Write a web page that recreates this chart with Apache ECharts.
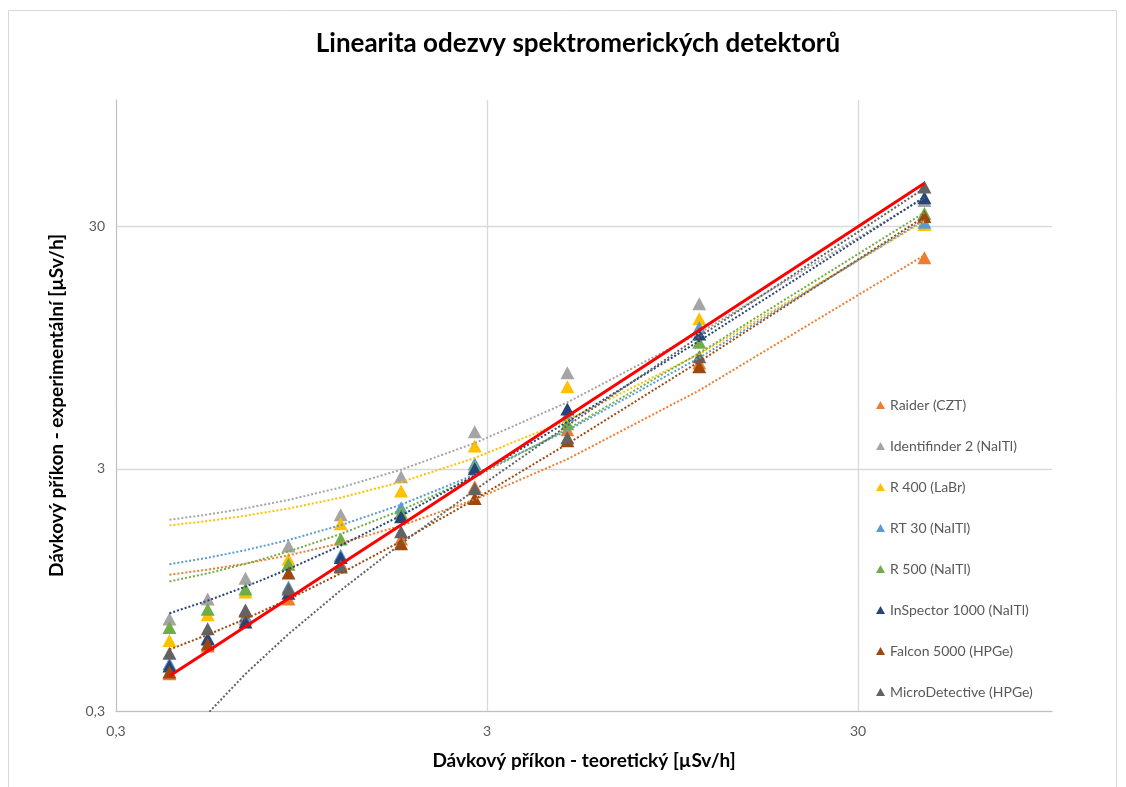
<!DOCTYPE html>
<html><head><meta charset="utf-8">
<script src="https://cdn.jsdelivr.net/npm/echarts@6/dist/echarts.min.js"></script>
<style>html,body{margin:0;padding:0;background:#fff}#c{width:1126px;height:787px}</style>
</head><body><div id="c"></div>
<script>
// Theoretical dose rate (x) [µSv/h]
const doses = [0.418, 0.53, 0.67, 0.875, 1.21, 1.76, 2.78, 4.94, 11.2, 45.3];
// Measured dose rate per detector [µSv/h]
const raider       = [0.427, 0.557, 0.72, 0.87, 1.22, 1.54, 2.53, 4.35, 8.2, 22.3];
const identifinder = [0.72, 0.87, 1.06, 1.44, 1.94, 2.78, 4.27, 7.48, 14.4, 38.5];
const r400         = [0.587, 0.75, 0.93, 1.27, 1.78, 2.43, 3.73, 6.55, 12.5, 30.6];
const rt30         = [0.47, 0.60, 0.74, 0.975, 1.32, 2.07, 3.15, 5.0, 11.5, 31.3];
const r500         = [0.664, 0.79, 0.957, 1.21, 1.54, 1.97, 3.06, 4.6, 10.0, 34.0];
const inspector    = [0.46, 0.595, 0.70, 0.92, 1.29, 1.90, 3.0, 5.3, 10.8, 39.5];
const falcon       = [0.435, 0.567, 0.777, 1.115, 1.18, 1.47, 2.26, 3.92, 7.92, 33.0];
const micro        = [0.52, 0.655, 0.784, 0.957, 1.19, 1.65, 2.48, 4.03, 8.71, 43.7];

const seriesNames = ['Raider (CZT)', 'Identifinder 2 (NaITl)', 'R 400 (LaBr)', 'RT 30 (NaITl)',
  'R 500 (NaITl)', 'InSpector 1000 (NaITl)', 'Falcon 5000 (HPGe)', 'MicroDetective (HPGe)'];
const seriesValues = [raider, identifinder, r400, rt30, r500, inspector, falcon, micro];
const tickValues = [0.3, 3, 30];

const colors = ['#ED7D31', '#A5A5A5', '#FFC000', '#5B9BD5', '#70AD47', '#264478', '#9E480E', '#636363'];
const FONT = 'Lato, "Open Sans", sans-serif';

// least-squares linear trendline (as Excel "linear trendline") evaluated at the measured doses
function linFit(xs, ys) {
  const n = xs.length;
  const mx = xs.reduce((a, b) => a + b, 0) / n;
  const my = ys.reduce((a, b) => a + b, 0) / n;
  let sxy = 0, sxx = 0;
  for (let i = 0; i < n; i++) { sxy += (xs[i] - mx) * (ys[i] - my); sxx += (xs[i] - mx) * (xs[i] - mx); }
  const a = sxy / sxx, b = my - a * mx;
  return xs.map(x => [x, a * x + b]);
}

const series = [];
seriesNames.forEach((name, i) => {
  series.push({
    name, type: 'scatter', symbol: 'triangle', symbolSize: [14, 13], z: 2,
    itemStyle: { color: colors[i], opacity: 1 },
    data: doses.map((x, j) => [x, seriesValues[i][j]])
  });
});
seriesNames.forEach((name, i) => {
  series.push({
    name: name + ' trend', type: 'line', silent: true, showSymbol: false, symbol: 'none', z: 3,
    lineStyle: { color: colors[i], width: 2, type: [2, 2] },
    data: linFit(doses, seriesValues[i])
  });
});
series.push({
  name: 'ideal', type: 'line', silent: true, showSymbol: false, symbol: 'none', z: 4,
  lineStyle: { color: '#FF0000', width: 3 },
  data: doses.map(x => [x, x])
});

const fmt = v => String(+v.toPrecision(6)).replace('.', ',');

const chart = echarts.init(document.getElementById('c'), null, { renderer: 'canvas' });
chart.setOption({
  animation: false,
  backgroundColor: '#fff',
  textStyle: { fontFamily: FONT },
  title: {
    text: 'Linearita odezvy spektromerických detektorů',
    left: 573, top: 26, textAlign: 'center',
    textStyle: { fontFamily: FONT, fontSize: 26, fontWeight: 'bold', color: '#000' }
  },
  graphic: [{
    type: 'rect', silent: true, z: -10,
    shape: { x: 8.5, y: 10.5, width: 1108, height: 800 },
    style: { fill: 'none', stroke: '#D9D9D9', lineWidth: 1 }
  }],
  grid: { left: 116, top: 100, width: 936, height: 611, containLabel: false },
  legend: {
    orient: 'vertical', left: 871, top: 393, itemWidth: 9, itemHeight: 8, itemGap: 27,
    icon: 'triangle', data: seriesNames,
    textStyle: { fontFamily: FONT, fontSize: 14, color: '#595959' }
  },
  xAxis: {
    type: 'log', logBase: 10, min: 0.3, max: 100,
    name: 'Dávkový příkon - teoretický [µSv/h]', nameLocation: 'middle', nameGap: 40,
    nameTextStyle: { fontFamily: FONT, fontSize: 19, fontWeight: 'bold', color: '#000' },
    axisLine: { show: true, lineStyle: { color: '#BFBFBF', width: 1 } },
    axisTick: { show: false, customValues: tickValues },
    splitLine: { show: true, lineStyle: { color: '#D9D9D9', width: 1.3 } },
    axisLabel: { customValues: tickValues, formatter: fmt, color: '#595959', fontSize: 14, margin: 13, fontFamily: FONT }
  },
  yAxis: {
    type: 'log', logBase: 10, min: 0.3, max: 100,
    name: 'Dávkový příkon - experimentální [µSv/h]', nameLocation: 'middle', nameGap: 50,
    nameTextStyle: { fontFamily: FONT, fontSize: 19, fontWeight: 'bold', color: '#000' },
    axisLine: { show: true, lineStyle: { color: '#BFBFBF', width: 1 } },
    axisTick: { show: false, customValues: tickValues },
    splitLine: { show: true, lineStyle: { color: '#D9D9D9', width: 1.3 } },
    axisLabel: { customValues: tickValues, formatter: fmt, color: '#595959', fontSize: 14, margin: 11, fontFamily: FONT }
  },
  series
});
</script></body></html>
